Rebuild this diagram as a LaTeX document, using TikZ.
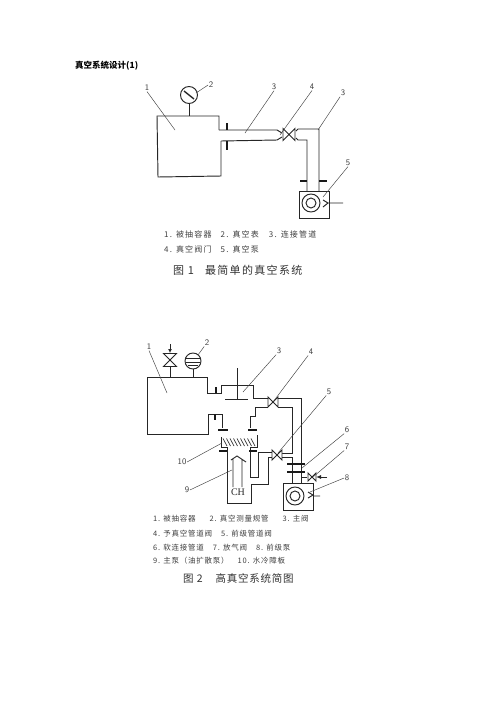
\documentclass[tikz,border=0pt]{standalone}
\usepackage{fontspec}
\setmainfont{Liberation Serif}
\newfontfamily\cjk{Noto Sans CJK SC}
\newfontfamily\cjkcap[LetterSpace=12]{Noto Sans CJK SC}
\newfontfamily\cjkcapb[LetterSpace=7]{Noto Sans CJK SC}
\newfontfamily\cjklab[LetterSpace=10]{Noto Sans CJK SC}
\newfontfamily\cjklabw[LetterSpace=15]{Noto Sans CJK SC}
\usepackage{tikz}
\usetikzlibrary{positioning,arrows.meta,calc}
\tikzset{
  % --- pipework --------------------------------------------------------
  wall/.style    ={line width=0.95pt, draw=black!85},
  thinwall/.style={line width=0.7pt, draw=black!80},
  flange/.style  ={line width=1.9pt, draw=black!90},
  % --- annotation ------------------------------------------------------
  leader/.style  ={line width=0.45pt, draw=black!75},
  num/.style     ={font=\fontsize{8.5}{9}\selectfont\sffamily, text=black!75, inner sep=0.5pt},
  lab/.style     ={font=\fontsize{7.5}{9}\selectfont\cjklab, text=black!75, anchor=west, inner sep=0},
  labw/.style    ={font=\fontsize{8}{9}\selectfont\cjklabw, text=black!75, anchor=west, inner sep=0},
  capline/.style ={font=\fontsize{11}{12}\selectfont\cjkcap, text=black!80, anchor=west, inner sep=0},
  caplineb/.style={font=\fontsize{10.5}{12}\selectfont\cjkcapb, text=black!80, anchor=west, inner sep=0},
  ttl/.style     ={font=\fontsize{8.5}{9}\selectfont\cjk\bfseries, text=black, anchor=west, inner sep=0},
}
% horizontal and vertical bow-tie valves
\newcommand{\valveh}[3]{%
  \draw[wall, fill=white] (#1-#3,#2-#3) -- (#1+#3,#2+#3) -- (#1+#3,#2-#3) -- (#1-#3,#2+#3) -- cycle;}
\newcommand{\valvev}[3]{%
  \draw[wall, fill=white] (#1-#3,#2-#3) -- (#1+#3,#2-#3) -- (#1-#3,#2+#3) -- (#1+#3,#2+#3) -- cycle;}
\begin{document}
\begin{tikzpicture}[x=1pt,y=-1pt]
  \useasboundingbox[fill=white] (0,0) rectangle (496,702);

  \node[ttl] (title) at (75,66) {真空系统设计(1)};

  % ===================== figure 1: vessel and gauge =====================
  \draw[wall] (219,130) -- (219,116) -- (157,116) -- (158,177) -- (221,176) -- (221,141);
  \node[circle, draw=black!85, line width=0.95pt, minimum size=17pt, inner sep=0] (gaugeA) at (189,95) {};
  \draw[wall] (gaugeA.south) -- (189,116);
  \draw[line width=1.4pt, black!85] (184,91) -- (194,99);

  % ===================== figure 1: pipe, valve, pump =====================
  \draw[wall] (219,130) -- (277,130) -- (282,133);
  \draw[wall] (221,141) -- (277,140) -- (282,137);
  \valveh{289}{134.5}{6}
  \draw[wall] (296,131) -- (298,129) -- (319,129) -- (319,191);
  \draw[wall] (296,138) -- (298,140) -- (307,140) -- (307,191);
  \draw[flange] (227,123) -- (227,130) (227,141) -- (227,150);
  \draw[flange] (300,181) -- (307,181) (319,181) -- (327,181);
  \draw[wall] (299,191) rectangle (329,218);
  \node[circle, draw=black!85, line width=0.95pt, minimum size=18pt, inner sep=0] (pumpA) at (311,203) {};
  \node[circle, draw=black!85, line width=0.95pt, minimum size=10pt, inner sep=0] at (pumpA) {};
  \draw[wall] (323,200) -- (328,203) -- (323,207) (328,203) -- (343,203);

  % ===================== figure 1: part numbers =====================
  \node[num] (a1) at (147,88) {1};
  \node[num] (a2) at (211,85) {2};
  \node[num] (a3) at (274,87) {3};
  \node[num] (a4) at (312,87) {4};
  \node[num] (a6) at (343,93) {3};
  \node[num] (a5) at (348,163) {5};
  \draw[leader] (a1.south) -- (175,130);
  \draw[leader] (a2.west) -- (196,93);
  \draw[leader] (a3.south) -- (245,133);
  \draw[leader] (a4.south) -- (280,135);
  \draw[leader] (a6.south west) -- (318,130);
  \draw[leader] (a5.south) -- (323,197);

  \node[labw] at (164,234) {1. 被抽容器\hspace{9pt}2. 真空表\hspace{10pt}3. 连接管道};
  \node[labw] at (164,249) {4. 真空阀门\hspace{9pt}5. 真空泵};
  \node[capline] at (173,270) {图 1\hspace{11pt}最简单的真空系统};

  % ===================== figure 2: vessel, gauge, air valve =====================
  \draw[wall] (207,393) -- (207,377) -- (147,377) -- (147,434) -- (208,434) -- (208,414) -- (222,414) -- (222,428);
  \draw[wall] (207,393) -- (221,393) -- (221,385) -- (253,385) -- (253,398) -- (268,398);
  \draw[flange] (216,387) -- (216,393) (215,414) -- (215,420);
  \draw[wall] (237,368) -- (237,399) (225,399) -- (248,399);
  \draw[wall] (170,366) -- (170,377);
  \valvev{170}{360}{6.5}
  \draw[wall, -{Latex[length=4pt,width=4pt]}] (170,344) -- (170,353);
  \node[circle, draw=black!85, line width=0.95pt, minimum size=16pt, inner sep=0] (gaugeB) at (193,361) {};
  \draw[wall] (gaugeB.south) -- (193,377);
  \draw[wall] (186,358) -- (200,358) (186,362) -- (200,362) (188,365) -- (198,365);

  % ===================== figure 2: main pump and baffle =====================
  \draw[wall] (221,437) -- (221,447) -- (227,447) -- (227,503) -- (251,503) -- (251,484) -- (268,484) -- (268,457) -- (272,457);
  \draw[wall] (257,435) -- (257,447) -- (250,447) -- (250,477) -- (258,477) -- (258,452) -- (272,452);
  \draw[wall] (255,407) -- (255,416) -- (250,416) -- (250,428);
  \draw[flange] (218,430) -- (228,430) (219,451) -- (227,451) (248,430) -- (257,430) (249,451) -- (257,451);
  \foreach \hx in {223,226.5,...,253}
    \draw[thinwall] (\hx,438.5) -- (\hx+4,446);
  \draw[wall] (233,487) -- (233,459) (242,487) -- (242,459) (231,460) -- (237,456) -- (246,462);
  \node[font=\fontsize{10}{11}\selectfont, text=black!85, inner sep=0] (ch) at (238,492) {CH};

  % ===================== figure 2: fore line =====================
  \draw[wall] (255,407) -- (268,407);
  \valveh{273}{402}{5}
  \draw[wall] (278,398) -- (301,398) -- (301,483);
  \draw[wall] (278,407) -- (292,407) -- (292,453) -- (282,453);
  \valveh{277}{455}{5}
  \draw[wall] (282,457) -- (292,457) -- (292,483);
  \draw[flange] (287,464) -- (305,464) (287,472) -- (305,472);
  \draw[wall] (301,477) -- (307,477);
  \valveh{312}{477}{4}
  \draw[wall, -{Latex[length=5pt,width=4pt]}] (327,477) -- (316,477);
  \draw[wall] (283,483) rectangle (313,510);
  \node[circle, draw=black!85, line width=0.95pt, minimum size=18pt, inner sep=0] (pumpB) at (295,496) {};
  \node[circle, draw=black!85, line width=0.95pt, minimum size=10pt, inner sep=0] at (pumpB) {};
  \draw[wall] (308,492) -- (313,495) -- (308,498) (313,496) -- (320,496);

  % ===================== figure 2: part numbers =====================
  \node[num] (b1) at (149,347) {1};
  \node[num] (b2) at (207,343) {2};
  \node[num] (b3) at (279,351) {3};
  \node[num] (b4) at (311,352) {4};
  \node[num] (b5) at (329,392) {5};
  \node[num] (b6) at (347,430) {6};
  \node[num] (b7) at (347,447) {7};
  \node[num] (b8) at (347,478) {8};
  \node[num] (b9) at (187,490) {9};
  \node[num] (b10) at (182,462) {10};
  \draw[leader] (b1.south) -- (167,393);
  \draw[leader] (b2.south west) -- (198,355);
  \draw[leader] (b3.south west) -- (243,392);
  \draw[leader] (b4.south west) -- (273,402);
  \draw[leader] (b5.south west) -- (278,453);
  \draw[leader] (b6.south west) -- (302,468);
  \draw[leader] (b7.south west) -- (313,477);
  \draw[leader] (b8.west) -- (310,492);
  \draw[leader] (b9.east) -- (232,470);
  \draw[leader] (b10.east) -- (222,443);

  \node[lab] at (153,519) {1. 被抽容器\hspace{14pt}2. 真空测量规管\hspace{14pt}3. 主阀};
  \node[lab] at (153,534) {4. 予真空管道阀\hspace{9pt}5. 前级管道阀};
  \node[lab] at (153,548) {6. 软连接管道\hspace{9pt}7. 放气阀\hspace{9pt}8. 前级泵};
  \node[lab] at (153,561) {9. 主泵（油扩散泵）\hspace{9pt}10. 水冷障板};
  \node[caplineb] at (183,578) {图 2\hspace{13pt}高真空系统简图};

\end{tikzpicture}
\end{document}
